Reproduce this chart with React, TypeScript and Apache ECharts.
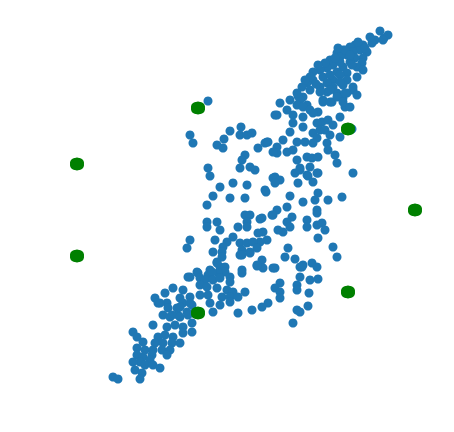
import React, { useEffect, useRef } from "react";
import * as echarts from "echarts";

// Data (x to the right, y downward, picture units)
const pointsX: number[] = [];
const pointsY: number[] = [];
const bluePairs: [number, number][] = [
  [380,31],[388,35],[384,38],[375,40],[372,43],[363,45],[355,45],[350,47],[343,50],[337,53],
  [360,50],[367,52],[353,52],[347,55],[340,57],[363,58],[355,58],[350,62],[330,60],[333,65],
  [362,63],[357,67],[343,67],[327,68],[320,70],[313,72],[337,72],[347,73],[363,70],[357,77],
  [347,80],[333,80],[323,77],[313,80],[307,83],[302,87],[343,85],[333,87],[320,87],[310,90],
  [353,90],[347,93],[337,93],[327,92],[323,100],[332,102],[343,98],[345,107],[303,97],[307,105],
  [370,37],[383,40],[365,48],[358,42],[345,50],[338,48],[350,55],[340,62],[325,63],[318,65],
  [310,77],[316,84],[305,80],[298,96],[290,100],[300,100],[330,75],[340,75],[352,65],[335,58],
  [327,83],[340,82],[353,87],[357,95],[345,93],[337,97],[330,90],[320,92],[297,93],
  [343,102],[350,107],[280,103],[277,115],[287,110],[297,105],[303,107],[310,110],[318,112],[323,102],
  [330,102],[293,115],[303,117],[313,113],[322,122],[328,120],[340,117],[333,125],[317,123],[303,127],
  [293,123],[290,132],[313,133],[320,130],[325,130],[330,135],[340,137],[317,138],[283,140],[277,147],
  [267,142],[297,142],[305,142],[327,143],[313,143],[277,153],[287,152],[293,150],[328,150],[307,157],
  [297,160],[312,158],[318,157],[335,155],[337,163],[300,168],[310,167],[275,177],[307,175],[318,173],
  [353,173],[352,129],
  [208,101],[190,135],[193,143],[230,131],[241,127],[240,135],[247,135],[252,133],[224,139],[217,145],
  [223,148],[265,143],[258,148],[268,142],[275,115],[245,155],[242,160],[240,168],[250,167],[255,170],
  [208,168],[210,176],[233,183],[220,187],[247,185],[265,190],[273,178],[273,152],
  [280,180],[275,183],[295,173],[300,170],[308,176],[317,173],[313,182],[298,183],[266,192],
  [290,196],[318,193],[315,200],[303,202],[328,200],[342,197],[287,207],[277,210],[273,215],[262,218],
  [292,217],[287,222],[290,227],[283,232],[278,230],[317,210],[317,213],[307,220],[307,227],[317,225],
  [322,223],[325,230],[318,238],[263,232],[267,240],[260,242],[288,248],[333,247],[337,257],[285,257],
  [295,259],[262,260],[275,268],[303,265],[300,267],[312,263],[317,267],
  [213,196],[207,205],[230,198],[245,198],[245,215],[250,215],[247,222],[238,227],[247,227],
  [260,219],[272,215],[207,222],[207,227],[217,222],[220,230],[258,233],[233,237],[215,240],
  [190,240],[187,248],[227,242],[223,247],[222,252],[213,252],[240,243],[247,243],[253,242],
  [242,250],[242,255],[250,252],[257,248],[217,262],[210,270],[220,267],[225,267],[225,272],[218,273],
  [198,273],[190,277],[242,270],[263,268],[257,266],[273,268],[208,275],[230,277],
  [302,267],[300,277],[310,280],[318,279],[280,283],[275,288],[280,292],[280,298],[297,285],[297,290],
  [309,293],[268,303],[262,307],[297,310],[300,312],[308,306],[293,323],
  [222,257],[240,255],[250,253],[257,265],[242,273],[217,263],[212,272],[197,272],[188,277],[200,278],
  [205,280],[213,280],[220,278],[230,282],[200,285],[207,287],[217,288],[227,290],[233,292],[245,292],
  [173,288],[165,293],[183,290],[190,297],[200,295],[208,295],[222,297],[230,297],[155,298],[158,303],
  [167,303],[180,298],[183,303],[192,305],[210,303],[220,305],[230,302],[238,297],[177,308],[187,312],
  [213,312],[238,313],[252,310],[163,315],[170,317],[178,315],
  [160,303],[168,308],[180,307],[190,303],[172,315],[180,317],[188,315],[194,313],
  [153,325],[167,327],[175,325],[183,327],[192,323],[133,332],[137,337],[158,337],[165,335],[173,337],
  [183,333],[192,332],[143,342],[155,343],[163,343],[172,343],[180,343],[137,348],[145,350],[153,350],
  [162,350],[170,350],[137,355],[143,357],[152,355],[167,355],[140,362],[150,360],[133,362],[145,365],
  [153,365],[160,368],[135,370],[142,373],[113,377],[118,379],[140,379],
];
bluePairs.forEach(([x, y]) => { pointsX.push(x); pointsY.push(y); });

const greenX: number[] = [
  198,196,200,196,200,198,198,
  77,75,79,75,79,77,77,
  77,75,79,75,79,77,77,
  348,346,350,346,350,348,348,
  415,413,417,413,417,415,415,
  348,346,350,346,350,348,348,
  198,196,200,196,200,198,198,
];
const greenY: number[] = [
  108,107,109,109,107,106.5,109.5,
  164,163,165,165,163,162.5,165.5,
  256,255,257,257,255,254.5,257.5,
  129,128,130,130,128,127.5,130.5,
  210,209,211,211,209,208.5,211.5,
  292,291,293,293,291,290.5,293.5,
  313,312,314,314,312,311.5,314.5,
];

export default function App() {
  const ref = useRef<HTMLDivElement>(null);
  useEffect(() => {
    if (!ref.current) return;
    const chart = echarts.init(ref.current, undefined, { renderer: "svg" });
    chart.setOption({
      animation: false,
      grid: { left: 0, right: 0, top: 0, bottom: 0 },
      xAxis: { type: "value", min: 0, max: 454, show: false },
      yAxis: { type: "value", min: 0, max: 432, inverse: true, show: false },
      series: [
        {
          type: "scatter",
          symbolSize: 9,
          itemStyle: { color: "#1f77b4", opacity: 1 },
          data: pointsX.map((x, i) => [x, pointsY[i]]),
        },
        {
          type: "scatter",
          symbolSize: 10,
          itemStyle: { color: "#008000", opacity: 1 },
          data: greenX.map((x, i) => [x, greenY[i]]),
        },
      ],
    });
    return () => chart.dispose();
  }, []);
  return (
    <div
      ref={ref}
      style={{ position: "fixed", left: 0, top: 0, width: 454, height: 432, background: "#fff" }}
    />
  );
}
